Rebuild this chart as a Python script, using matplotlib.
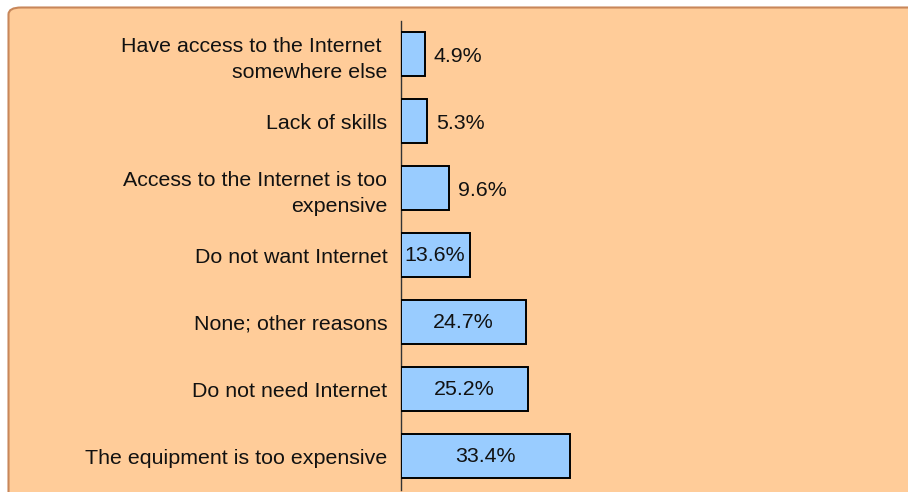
import matplotlib
matplotlib.use("Agg")
import matplotlib.pyplot as plt
from matplotlib.patches import Rectangle, FancyBboxPatch

plt.rcParams['font.family'] = ['Liberation Sans', 'DejaVu Sans']

categories = [
    "Have access to the Internet \nsomewhere else",
    "Lack of skills",
    "Access to the Internet is too\nexpensive",
    "Do not want Internet",
    "None; other reasons",
    "Do not need Internet",
    "The equipment is too expensive",
]
values = [4.9, 5.3, 9.6, 13.6, 24.7, 25.2, 33.4]
value_labels = ["4.9%", "5.3%", "9.6%", "13.6%", "24.7%", "25.2%", "33.4%"]

W, H = 908, 492
fig = plt.figure(figsize=(W / 100, H / 100), dpi=100)
fig.patch.set_facecolor("white")

# rounded background panel (extends past the right and bottom edges)
bg = FancyBboxPatch((8.5 / W, -0.2), 2.0, (1 - 7.5 / H) + 0.2,
                    boxstyle="round,pad=0,rounding_size=0.014",
                    transform=fig.transFigure, facecolor="#FFCC99",
                    edgecolor="#C8875A", linewidth=1.5, zorder=-5,
                    clip_on=False)
fig.add_artist(bg)

ax = fig.add_axes([400.5 / W, 2.5 / H, 1 - 400.5 / W, (489.5 - 20.5) / H])
ax.set_facecolor("none")
ax.set_zorder(2)

y = list(range(len(categories)))
ax.barh(y, values, height=0.67, color="#99CCFF", edgecolor="black",
        linewidth=1.4, zorder=3)

ax.set_xlim(0, 100)
ax.set_ylim(len(categories) - 0.5, -0.5)
ax.set_yticks(y)
ax.set_yticklabels(categories, fontsize=15.4, color="#111111", linespacing=1.45)
ax.tick_params(axis="y", length=0, pad=9.5)
ax.set_xticks([])

for s in ["top", "right", "bottom"]:
    ax.spines[s].set_visible(False)
ax.spines["left"].set_color("#333333")
ax.spines["left"].set_linewidth(1.0)

for yi, v, lab in zip(y, values, value_labels):
    if v < 10:
        ax.text(v + 1.7, yi + 0.04, lab, ha="left", va="center", fontsize=15.4,
                color="#111111", zorder=4)
    else:
        ax.text(v / 2, yi, lab, ha="center", va="center", fontsize=15.4,
                color="#111111", zorder=4)

fig.savefig("out.png", dpi=100, facecolor="white")
